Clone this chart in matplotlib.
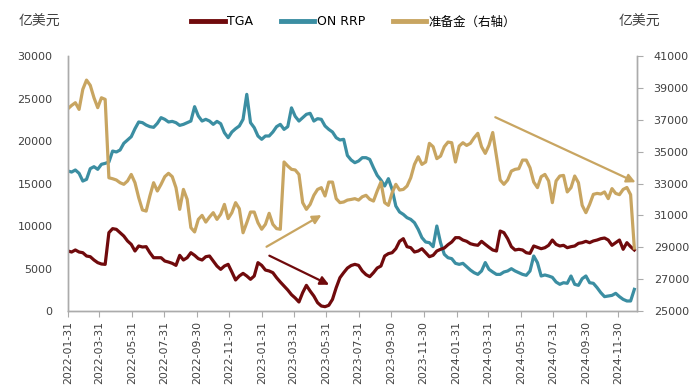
import matplotlib
matplotlib.use("Agg")
import matplotlib.pyplot as plt
from matplotlib.lines import Line2D
import pandas as pd

plt.rcParams['font.family'] = ['DejaVu Sans', 'Noto Sans CJK SC']

# weekly observations starting 2022-01-31
start_date = "2022-01-31"
n_weeks = 153

tga = [7060, 6940, 7180, 6940, 6860, 6470, 6390, 6000, 5690, 5530,
       5490, 9220, 9690, 9610, 9220, 8820, 8240, 7840, 7060, 7650,
       7530, 7570, 6860, 6270, 6270, 6270, 5880, 5760, 5610, 5370,
       6550, 6000, 6270, 6860, 6550, 6160, 6000, 6390, 6470,
       5880, 5290, 4900, 5290, 5490, 4590, 3650, 4120, 4430, 4120,
       3730, 4120, 5690, 5370, 4820, 4710, 4510, 3920, 3410, 2940,
       2470, 1920, 1530, 1060, 2160, 3020, 2350, 1760, 980, 590,
       510, 670, 1370, 2750, 3920, 4510, 5050, 5350,
       5490, 5370, 4710, 4280, 4040, 4510, 5060, 5290, 6470, 6750,
       6860, 7330, 8200, 8510, 7570, 7450, 6940, 7060, 7330, 6860,
       6390, 6550, 7060, 7260, 7410, 7800, 8120, 8630, 8630, 8350,
       8200, 7920, 7800, 7730, 8200, 7840, 7500,
       7180, 7060, 9410, 9220, 8510, 7570, 7180, 7260, 7180, 6860,
       6780, 7650, 7490, 7330, 7450, 7730, 8350, 7840, 7650, 7730,
       7450, 7570, 7650, 7960, 8040, 8200, 8040, 8240, 8350, 8510,
       8590, 8350, 7730, 8040, 8350, 7260, 8040, 7570, 7180]

on_rrp = [16470, 16350, 16590, 16200, 15290, 15490, 16750, 16980, 16670, 17260,
          17370, 17530, 18820, 18710, 18940, 19730, 20120, 20510, 21450, 22240,
          22160, 21880, 21690, 21610, 22080, 22750, 22550, 22240, 22310, 22160,
          21840, 21960, 22160, 22350, 24040, 22940, 22350, 22550, 22350,
          21960, 22310, 22040, 20980, 20390, 21060, 21450, 21770, 22550, 25490,
          22160, 21570, 20590, 20200, 20590, 20590, 21060, 21690, 21960, 21370,
          21690, 23900, 22900, 22350, 22750, 23140, 23260, 22350, 22630, 22550,
          21770, 21370, 21060, 20390, 20120, 20200, 18300, 17770,
          17450, 17650, 18040, 18040, 17840, 16860, 15960, 15410, 14710, 15570,
          14310, 12350, 11650, 11370, 10980, 10780, 10390, 9610, 8630, 8120,
          8040, 7570, 10000, 8040, 6670, 6270, 6160, 5610, 5490, 5610,
          5220, 4820, 4510, 4310, 4710, 5700, 4900,
          4590, 4310, 4310, 4590, 4710, 4980, 4710, 4510, 4310, 4200,
          4710, 6470, 5690, 4120, 4240, 4120, 3960, 3410, 3140, 3330,
          3260, 4120, 3140, 3020, 3800, 4120, 3330, 3260, 2750, 2160,
          1690, 1770, 1840, 2080, 1690, 1370, 1180, 1180, 2550]

reserves = [37690, 37900, 38070, 37650, 38910, 39490, 39160, 38380, 37760, 38380,
            38280, 33360, 33300, 33220, 33050, 32950, 33160, 33570, 33050, 32110,
            31340, 31270, 32220, 33050, 32530, 32950, 33430, 33640, 33430, 32740,
            31380, 32630, 32010, 30230, 29960, 30750, 31000, 30580, 30900,
            31170, 30750, 31070, 31690, 30800, 31170, 31800, 31420, 29910, 30540,
            31210, 31210, 30540, 30130, 30440, 31130, 30440, 30170, 30130, 34350,
            34100, 33890, 33850, 33570, 31800, 31380, 31690, 32260, 32630, 32740,
            32220, 33090, 33090, 32050, 31800, 31840, 31960, 32000,
            32050, 31960, 32170, 32260, 32010, 31900, 32530, 33090, 31800, 31630,
            32420, 32950, 32590, 32630, 32840, 33360, 34200, 34680, 34200, 34350,
            35520, 35310, 34560, 34720, 35310, 35600, 35560, 34350, 35350, 35560,
            35390, 35520, 35870, 36150, 35310, 34890, 35400,
            36200, 34700, 33220, 32950, 33220, 33780, 33890, 33930, 34470, 34470,
            33990, 33090, 32740, 33430, 33570, 33160, 31800, 33160, 33470, 33510,
            32470, 32740, 33470, 33050, 31630, 31170, 31690, 32320, 32380, 32340,
            32470, 32050, 32680, 32380, 32300, 32630, 32750, 32300, 28950]

tick_dates = ["2022-01-31", "2022-03-31", "2022-05-31", "2022-07-31", "2022-09-30",
              "2022-11-30", "2023-01-31", "2023-03-31", "2023-05-31", "2023-07-31",
              "2023-09-30", "2023-11-30", "2024-01-31", "2024-03-31", "2024-05-31",
              "2024-07-31", "2024-09-30", "2024-11-30"]

left_ticks = [0, 5000, 10000, 15000, 20000, 25000, 30000]
right_ticks = [25000, 27000, 29000, 31000, 33000, 35000, 37000, 39000, 41000]

series_names = ["TGA", "ON RRP", "准备金（右轴）"]
unit_label = "亿美元"

c_tga = "#700A0C"
c_rrp = "#3B8EA2"
c_res = "#C8A561"
spine_c = "#ABABAB"
text_c = "#404040"

dates = pd.date_range(start_date, periods=n_weeks, freq="7D")

fig = plt.figure(figsize=(7.0, 3.92), dpi=100)
ax = fig.add_axes([0.097, 0.2066, 0.813, 0.6505])
ax2 = ax.twinx()

lw = 2.3
ax.plot(dates, tga, color=c_tga, lw=lw, solid_joinstyle="round", zorder=3)
ax.plot(dates, on_rrp, color=c_rrp, lw=lw, solid_joinstyle="round", zorder=2)
ax2.plot(dates, reserves, color=c_res, lw=lw, solid_joinstyle="round", zorder=2)

ax.set_xlim(dates[0], dates[-1] + pd.Timedelta(days=5))
ax.set_ylim(0, 30000)
ax2.set_ylim(25000, 41000)
ax.set_yticks(left_ticks)
ax2.set_yticks(right_ticks)

tick_pos = pd.to_datetime(tick_dates)
ax.set_xticks(tick_pos)
ax.set_xticklabels(tick_dates, rotation=90, ha="center", va="top")

for a in (ax, ax2):
    a.spines["top"].set_visible(False)
    for s in ["left", "right", "bottom"]:
        a.spines[s].set_color(spine_c)
        a.spines[s].set_linewidth(1.0)

ax.tick_params(axis="y", length=0, pad=11, labelsize=8, labelcolor=text_c)
ax.tick_params(axis="x", length=4, width=0.8, color=spine_c, direction="out",
               pad=3, labelsize=7.8, labelcolor=text_c)
ax2.tick_params(axis="y", length=4, width=0.8, color=spine_c, direction="out",
                pad=8, labelsize=8, labelcolor=text_c)

# trend arrows (axes-fraction coordinates)
arrows = [((0.349, 0.252), (0.4455, 0.376), c_res),
          ((0.354, 0.217), (0.459, 0.103), c_tga),
          ((0.751, 0.760), (0.9975, 0.505), c_res)]
for (tail, tip, col) in arrows:
    ax2.annotate("", xy=tip, xytext=tail, xycoords="axes fraction",
                 textcoords="axes fraction",
                 arrowprops=dict(arrowstyle="-|>", color=col, lw=1.6,
                                 mutation_scale=13, shrinkA=0, shrinkB=0),
                 zorder=5)

handles = [Line2D([0], [0], color=c, lw=3.5) for c in (c_tga, c_rrp, c_res)]
fig.legend(handles, series_names, loc="center", bbox_to_anchor=(0.505, 0.944),
           ncol=3, frameon=False, handlelength=2.7,
           handletextpad=0.2, columnspacing=2.2,
           prop={"family": ["DejaVu Sans", "Noto Sans CJK SC"], "size": 9})

fig.text(0.026, 0.944, unit_label, ha="left", va="center", fontsize=10,
         color=text_c, family=["Noto Sans CJK SC", "DejaVu Sans"])
fig.text(0.884, 0.944, unit_label, ha="left", va="center", fontsize=10,
         color=text_c, family=["Noto Sans CJK SC", "DejaVu Sans"])

fig.savefig("out.png", dpi=100)
